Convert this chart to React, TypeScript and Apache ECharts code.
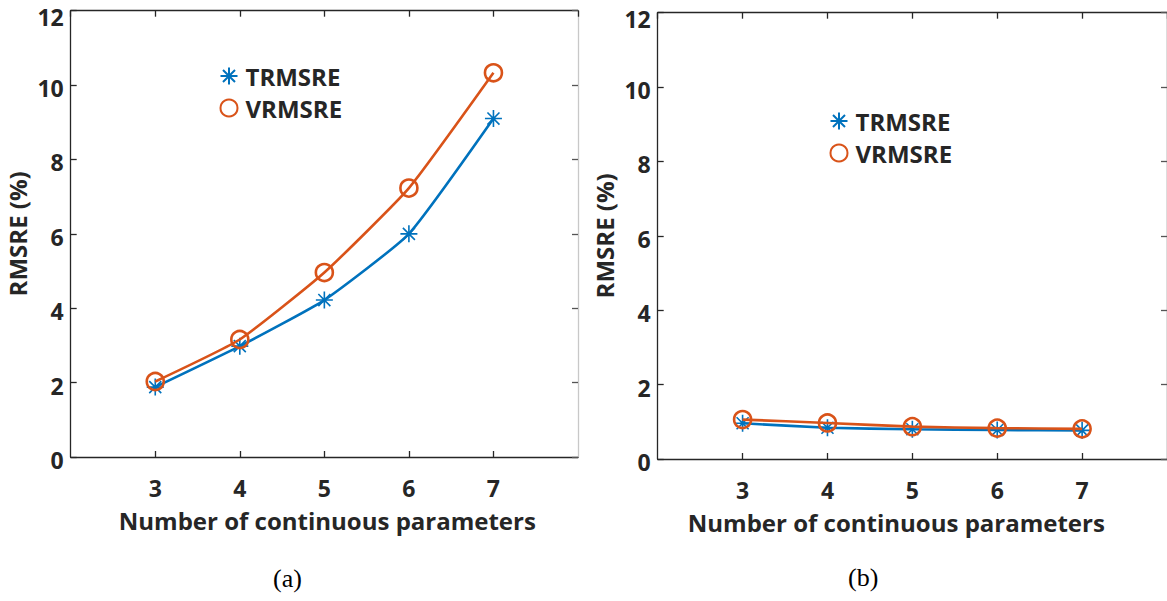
import React, { useEffect, useRef } from "react";
import * as echarts from "echarts";

// Number of continuous parameters on the x axis
const paramCounts = [3, 4, 5, 6, 7];

// Panel (a): errors in %
const trmsreA = [1.88, 2.98, 4.22, 6.0, 9.1];
const vrmsreA = [2.03, 3.16, 4.96, 7.23, 10.33];

// Panel (b): errors in %
const trmsreB = [0.96, 0.84, 0.8, 0.78, 0.77];
const vrmsreB = [1.06, 0.97, 0.87, 0.83, 0.81];

const yTicks = { min: 0, max: 12, interval: 2 };
const xRange = { min: 2, max: 8, interval: 1 };

const BLUE = "#0072BD";
const ORANGE = "#D95319";
const INK = "#262626";
const FONT = "Open Sans";

// MATLAB-style asterisk marker: plus combined with a cross
const ASTERISK =
  "path://M10 0L10 20M0 10L20 10M2.93 2.93L17.07 17.07M17.07 2.93L2.93 17.07";

const pairs = (ys: number[]) => paramCounts.map((x, i) => [x, ys[i]]);

const tickFont = { fontFamily: FONT, fontWeight: "bold" as const, fontSize: 23, color: INK };
const titleFont = { fontFamily: FONT, fontWeight: "bold" as const, fontSize: 24, color: INK };

function bottomAxis(gridIndex: number, nameShift: number) {
  return {
    gridIndex,
    type: "value",
    position: "bottom",
    ...xRange,
    axisLine: { show: true, onZero: false, lineStyle: { color: INK, width: 1.3 } },
    axisTick: { show: true, inside: true, length: 6, lineStyle: { color: INK, width: 1.3 } },
    axisLabel: { ...tickFont, margin: 23, lineHeight: 16, showMinLabel: false, showMaxLabel: false },
    splitLine: { show: false },
    name: "Number of continuous parameters",
    nameLocation: "middle",
    nameGap: 54,
    nameTextStyle: {
      ...titleFont,
      lineHeight: 18,
      padding: nameShift < 0 ? [0, -2 * nameShift, 0, 0] : [0, 0, 0, 2 * nameShift],
    },
  };
}

function topAxis(gridIndex: number) {
  return {
    gridIndex,
    type: "value",
    position: "top",
    ...xRange,
    axisLine: { show: true, onZero: false, lineStyle: { color: INK, width: 1.3 } },
    axisTick: { show: true, inside: true, length: 6, lineStyle: { color: INK, width: 1.3 } },
    axisLabel: { show: false },
    splitLine: { show: false },
  };
}

function leftAxis(gridIndex: number) {
  return {
    gridIndex,
    type: "value",
    position: "left",
    ...yTicks,
    axisLine: { show: true, onZero: false, lineStyle: { color: INK, width: 1.3 } },
    axisTick: { show: true, inside: true, length: 6, lineStyle: { color: INK, width: 1.3 } },
    axisLabel: {
      ...tickFont,
      margin: 7,
      lineHeight: 6,
      padding: [6, 0, 0, 0],
      // the topmost label sits a little lower so it stays inside the figure
      formatter: (v: number) => (v === yTicks.max ? `{top|${v}}` : `${v}`),
      rich: { top: { ...tickFont, padding: [6, 0, 0, 0] } },
    },
    splitLine: { show: false },
    name: "RMSRE (%)",
    nameLocation: "middle",
    nameRotate: 90,
    nameGap: 41,
    nameTextStyle: { ...titleFont, lineHeight: 24 },
  };
}

function rightAxis(gridIndex: number, borderColor: string) {
  return {
    gridIndex,
    type: "value",
    position: "right",
    ...yTicks,
    axisLine: { show: true, onZero: false, lineStyle: { color: borderColor, width: 1.3 } },
    axisTick: { show: true, inside: true, length: 6, lineStyle: { color: "#555", width: 1.3 } },
    axisLabel: { show: false },
    splitLine: { show: false },
  };
}

function trSeries(data: number[], idx: number) {
  return {
    name: "TRMSRE",
    type: "line",
    xAxisIndex: idx,
    yAxisIndex: idx,
    data: pairs(data),
    smooth: 0.15,
    symbol: ASTERISK,
    symbolSize: 17,
    itemStyle: { color: BLUE, borderColor: BLUE, borderWidth: 1.6 },
    lineStyle: { color: BLUE, width: 2.6 },
    z: 3,
  };
}

function vrSeries(data: number[], idx: number) {
  return {
    name: "VRMSRE",
    type: "line",
    xAxisIndex: idx,
    yAxisIndex: idx,
    data: pairs(data),
    smooth: 0.15,
    symbol: "circle",
    symbolSize: 17,
    itemStyle: { color: "rgba(0,0,0,0)", borderColor: ORANGE, borderWidth: 2.6 },
    lineStyle: { color: ORANGE, width: 2.6 },
    z: 4,
  };
}

function legendAt(left: number, top: number) {
  return {
    left,
    top,
    orient: "vertical",
    padding: 0,
    itemGap: 8,
    itemWidth: 17,
    itemHeight: 17,
    selectedMode: false,
    textStyle: { ...titleFont, lineHeight: 24, padding: [0, 0, 0, 3] },
    data: [
      { name: "TRMSRE", icon: ASTERISK },
      { name: "VRMSRE", icon: "circle" },
    ],
  };
}

export default function App() {
  const ref = useRef<HTMLDivElement>(null);

  useEffect(() => {
    if (!ref.current) return;
    const chart = echarts.init(ref.current, null, { renderer: "svg" });
    chart.setOption({
      animation: false,
      backgroundColor: "#ffffff",
      grid: [
        { left: 70.7, top: 10.7, width: 507.3, height: 446.3 },
        { left: 657.7, top: 12.7, width: 511.8, height: 446.3 },
      ],
      xAxis: [bottomAxis(0, 3), bottomAxis(1, -16), topAxis(0), topAxis(1)],
      yAxis: [leftAxis(0), leftAxis(1), rightAxis(0, "#c8c8c8"), rightAxis(1, INK)],
      legend: [legendAt(219.5, 64), legendAt(829.5, 109)],
      series: [
        trSeries(trmsreA, 0),
        vrSeries(vrmsreA, 0),
        trSeries(trmsreB, 1),
        vrSeries(vrmsreB, 1),
      ],
      graphic: [
        {
          type: "text",
          left: 273,
          top: 565,
          style: { text: "(a)", font: "26px 'Liberation Serif'", fill: "#000" },
        },
        {
          type: "text",
          left: 848,
          top: 564,
          style: { text: "(b)", font: "26px 'Liberation Serif'", fill: "#000" },
        },
      ],
    });
    return () => chart.dispose();
  }, []);

  return (
    <div
      ref={ref}
      style={{ position: "absolute", left: 0, top: 0, width: 1167, height: 601, background: "#fff" }}
    />
  );
}
